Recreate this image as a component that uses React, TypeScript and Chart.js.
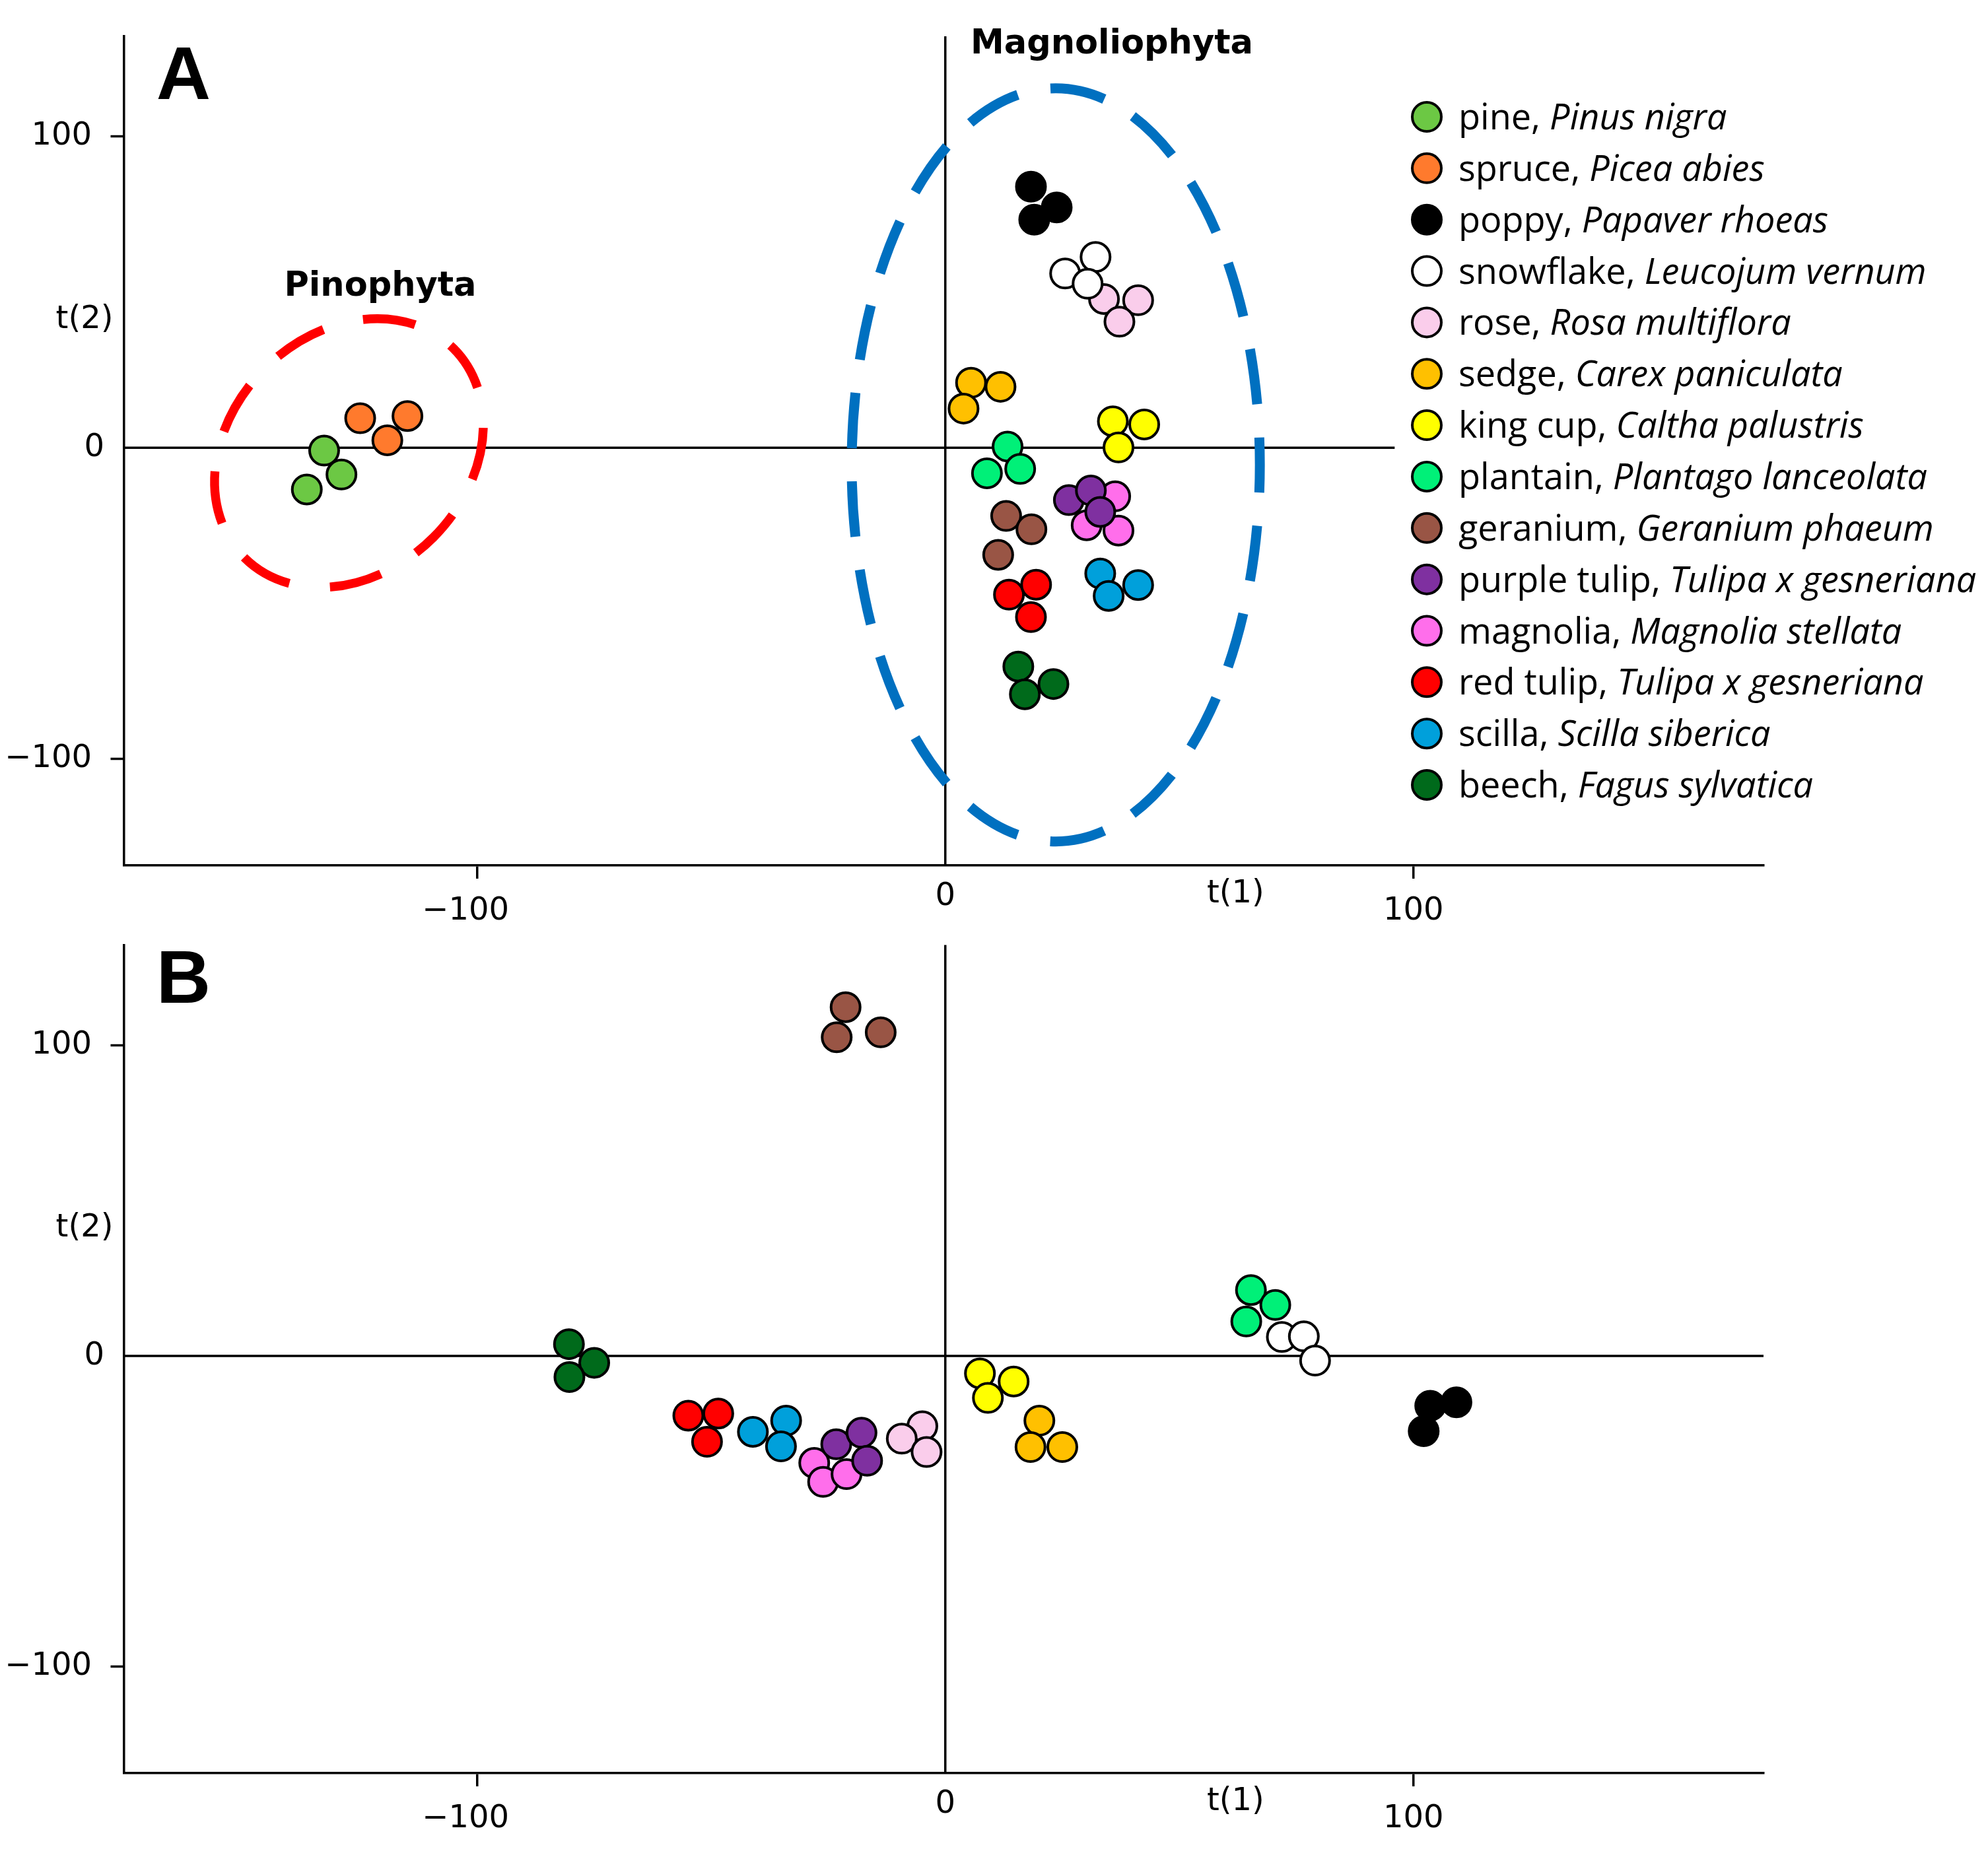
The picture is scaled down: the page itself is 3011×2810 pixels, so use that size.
import React, { useEffect, useRef } from 'react';
import { Chart, registerables } from 'chart.js';

Chart.register(...registerables);

// ---------- DATA ----------
const commonNames = ['pine', 'spruce', 'poppy', 'snowflake', 'rose', 'sedge', 'king cup', 'plantain', 'geranium', 'purple tulip', 'magnolia', 'red tulip', 'scilla', 'beech'];
const latinNames = ['Pinus nigra', 'Picea abies', 'Papaver rhoeas', 'Leucojum vernum', 'Rosa multiflora', 'Carex paniculata', 'Caltha palustris', 'Plantago lanceolata', 'Geranium phaeum', 'Tulipa x gesneriana', 'Magnolia stellata', 'Tulipa x gesneriana', 'Scilla siberica', 'Fagus sylvatica'];
const speciesColors = ['#6CC844', '#FF7A2D', '#000000', '#FFFFFF', '#FACDEB', '#FFC000', '#FFFF00', '#00F078', '#995545', '#7F30A0', '#FF6EEB', '#FF0000', '#00A0DB', '#006A1B'];

// Panel A scores: [t(1), t(2)]
const pineA = [[-132.7, -0.9], [-129.0, -8.6], [-136.4, -13.4]];
const spruceA = [[-125.0, 9.5], [-114.9, 10.2], [-119.2, 2.4]];
const poppyA = [[18.3, 83.9], [23.8, 77.2], [19.0, 73.3]];
const snowflakeA = [[32.1, 61.3], [25.6, 56.0], [30.4, 52.7]];
const roseA = [[33.9, 47.8], [41.2, 47.4], [37.2, 40.5]];
const sedgeA = [[5.5, 20.9], [11.8, 19.6], [3.9, 12.6]];
const kingcupA = [[35.8, 8.5], [42.5, 7.5], [37.0, 0.1]];
const plantainA = [[13.3, 0.4], [8.9, -8.2], [16.0, -6.8]];
const geraniumA = [[13.0, -21.9], [18.4, -26.2], [11.3, -34.4]];
const purpleTulipA = [[26.4, -16.8], [31.1, -13.7], [33.1, -20.6]];
const magnoliaA = [[36.3, -15.6], [30.2, -24.9], [37.0, -26.6]];
const redTulipA = [[13.6, -47.2], [19.4, -44.0], [18.3, -54.4]];
const scillaA = [[33.1, -40.4], [34.9, -47.6], [41.2, -44.1]];
const beechA = [[15.6, -70.3], [17.0, -79.2], [23.1, -75.9]];

// Panel B scores: [t(1), t(2)]
const pineB: number[][] = [];
const spruceB: number[][] = [];
const poppyB = [[103.6, -16.0], [109.2, -14.9], [102.2, -24.2]];
const snowflakeB = [[71.9, 6.1], [76.6, 6.3], [79.0, -1.5]];
const roseB = [[-4.9, -22.6], [-9.3, -26.6], [-4.0, -30.9]];
const sedgeB = [[20.1, -20.8], [18.2, -29.3], [25.0, -29.3]];
const kingcupB = [[7.4, -5.6], [14.6, -8.2], [9.1, -13.5]];
const plantainB = [[65.3, 21.2], [70.5, 16.4], [64.3, 11.1]];
const geraniumB = [[-21.3, 112.2], [-23.2, 102.5], [-13.8, 104.1]];
const purpleTulipB = [[-23.3, -28.4], [-17.9, -24.7], [-16.7, -33.7]];
const magnoliaB = [[-28.0, -34.4], [-26.1, -40.5], [-21.1, -38.0]];
const redTulipB = [[-54.9, -19.2], [-48.5, -18.5], [-50.9, -27.6]];
const scillaB = [[-41.1, -24.4], [-34.0, -20.8], [-35.1, -29.1]];
const beechB = [[-80.4, 3.8], [-75.0, -2.2], [-80.3, -6.8]];

const seriesA = [pineA, spruceA, poppyA, snowflakeA, roseA, sedgeA, kingcupA, plantainA, geraniumA, purpleTulipA, magnoliaA, redTulipA, scillaA, beechA];
const seriesB = [pineB, spruceB, poppyB, snowflakeB, roseB, sedgeB, kingcupB, plantainB, geraniumB, purpleTulipB, magnoliaB, redTulipB, scillaB, beechB];

const tickValues = [-100, 0, 100];
const xRange = [-175.5, 174.8];
const yRange = [-134.2, 132.2];

// ---------- STYLE ----------
const AXIS_W = 3.5;
const TICK_FONT = { family: 'DejaVu Sans', size: 48 };
const fmt = (v: number) => (v < 0 ? '\u2212' + Math.abs(v) : String(v));

type PanelCfg = {
  key: 'A' | 'B';
  top: number;
  height: number;
  padTop: number;
  xAxisH: number;
  series: number[][][];
  zeroLineEnd: number;
  letterBaseline: number;
  showLegend: boolean;
};

const panels: PanelCfg[] = [
  { key: 'A', top: 0, height: 1420, padTop: 55, xAxisH: 109, series: seriesA, zeroLineEnd: 96, letterBaseline: 150, showLegend: true },
  { key: 'B', top: 1420, height: 1390, padTop: 11.5, xAxisH: 124, series: seriesB, zeroLineEnd: xRange[1], letterBaseline: 99, showLegend: false },
];

function drawDashedEllipse(ctx: CanvasRenderingContext2D, cx: number, cy: number, a: number, b: number, rot: number, color: string, width: number, dash: number[], offset: number) {
  ctx.save();
  ctx.strokeStyle = color;
  ctx.lineWidth = width;
  ctx.setLineDash(dash);
  ctx.lineDashOffset = offset;
  ctx.lineCap = 'butt';
  ctx.beginPath();
  ctx.ellipse(cx, cy, a, b, rot, 0, Math.PI * 2);
  ctx.stroke();
  ctx.restore();
}

function overlayPlugin(p: PanelCfg) {
  return {
    id: 'overlay' + p.key,
    beforeDatasetsDraw(chart: any) {
      const { ctx, chartArea } = chart;
      const x = chart.scales.x;
      const y = chart.scales.y;
      ctx.save();
      ctx.strokeStyle = '#000';
      ctx.lineWidth = AXIS_W;
      const py = y.getPixelForValue(0);
      ctx.beginPath();
      ctx.moveTo(chartArea.left, py);
      ctx.lineTo(x.getPixelForValue(p.zeroLineEnd), py);
      ctx.stroke();
      ctx.restore();
    },
    afterDatasetsDraw(chart: any) {
      const { ctx, chartArea } = chart;
      const x = chart.scales.x;
      const y = chart.scales.y;
      const pxPerX = Math.abs(x.getPixelForValue(1) - x.getPixelForValue(0));
      const pxPerY = Math.abs(y.getPixelForValue(0) - y.getPixelForValue(1));

      // group ellipses (panel A)
      if (p.key === 'A') {
        drawDashedEllipse(ctx, x.getPixelForValue(-127.4), y.getPixelForValue(-1.7), 31.6 * pxPerX, 25.5 * pxPerX, -Math.PI / 4, '#FF0000', 13.5, [80, 62], 10);
        drawDashedEllipse(ctx, x.getPixelForValue(23.6), y.getPixelForValue(-5.5), 43.6 * pxPerX, 121 * pxPerY, 0, '#0070C0', 15, [84, 50.5], 42);
      }

      ctx.save();
      ctx.fillStyle = '#000';
      // "0" tick labels (no tick mark at zero)
      ctx.font = `${TICK_FONT.size}px "${TICK_FONT.family}"`;
      ctx.textAlign = 'right';
      ctx.textBaseline = 'middle';
      ctx.fillText('0', chartArea.left - 29.5, y.getPixelForValue(0));
      ctx.textAlign = 'center';
      ctx.fillText('0', x.getPixelForValue(0), chartArea.bottom + 48);

      // axis titles
      ctx.fillText('t(2)', 128, y.getPixelForValue(41));
      ctx.fillText('t(1)', x.getPixelForValue(62), chartArea.bottom + 44);

      // panel letter
      ctx.font = 'bold 114px "Liberation Sans"';
      ctx.textBaseline = 'alphabetic';
      ctx.fillText(p.key, 278, p.letterBaseline);

      if (p.key === 'A') {
        ctx.font = 'bold 51px "DejaVu Sans"';
        ctx.fillText('Pinophyta', 576, 448);
        ctx.fillText('Magnoliophyta', 1684, 81);
      }

      // legend
      if (p.showLegend) {
        const mx = 2161;
        const y0 = 177;
        const step = 77.85;
        chart.data.datasets.forEach((ds: any, i: number) => {
          const cy = y0 + i * step;
          ctx.beginPath();
          ctx.arc(mx, cy, 22, 0, Math.PI * 2);
          ctx.fillStyle = ds.backgroundColor;
          ctx.fill();
          ctx.lineWidth = 4;
          ctx.strokeStyle = '#000';
          ctx.stroke();
          ctx.fillStyle = '#000';
          ctx.textAlign = 'left';
          ctx.textBaseline = 'alphabetic';
          const base = cy + 19;
          const part1 = commonNames[i] + ', ';
          ctx.font = '54px "Open Sans"';
          ctx.fillText(part1, 2209, base);
          const w1 = ctx.measureText(part1).width;
          ctx.font = 'italic 54px "Open Sans"';
          ctx.fillText(latinNames[i], 2209 + w1, base);
        });
      }
      ctx.restore();
    },
  };
}

const noScalePadding = (s: any) => {
  s.paddingTop = 0;
  s.paddingBottom = 0;
  s.paddingLeft = 0;
  s.paddingRight = 0;
};

function buildChart(canvas: HTMLCanvasElement, p: PanelCfg) {
  const datasets = p.series.map((pts, i) => ({
    label: commonNames[i],
    data: pts.map(([a, b]) => ({ x: a, y: b })),
    backgroundColor: speciesColors[i],
    borderColor: '#000',
    borderWidth: 4,
    pointRadius: 22,
    pointHoverRadius: 22,
  }));
  const tickCol = (c: any) => (c.tick && c.tick.value === 0 ? 'rgba(0,0,0,0)' : '#000');
  return new Chart(canvas, {
    type: 'scatter',
    data: { datasets },
    options: {
      responsive: false,
      animation: false,
      devicePixelRatio: 1,
      events: [],
      layout: { autoPadding: false, padding: { left: 0, top: p.padTop, right: 3011 - 2671, bottom: 0 } },
      plugins: { legend: { display: false }, tooltip: { enabled: false } },
      scales: {
        x: {
          type: 'linear',
          min: xRange[0],
          max: xRange[1],
          afterBuildTicks: (s: any) => { s.ticks = tickValues.map((v) => ({ value: v })); },
          afterFit: (s: any) => { s.height = p.xAxisH; noScalePadding(s); },
          border: { display: true, color: '#000', width: AXIS_W },
          grid: {
            drawOnChartArea: true,
            color: (c: any) => (c.tick && c.tick.value === 0 ? '#000' : 'rgba(0,0,0,0)'),
            lineWidth: AXIS_W,
            drawTicks: true,
            tickLength: 20,
            tickColor: tickCol,
            tickWidth: AXIS_W,
          },
          ticks: {
            autoSkip: false,
            maxRotation: 0,
            padding: 21,
            color: '#000',
            font: TICK_FONT,
            callback: (v: any) => (v === 0 ? '' : v < 0 ? fmt(v) + '\u2007\u200a' : fmt(v)),
          },
        },
        y: {
          type: 'linear',
          min: yRange[0],
          max: yRange[1],
          afterBuildTicks: (s: any) => { s.ticks = tickValues.map((v) => ({ value: v })); },
          afterFit: (s: any) => { s.width = 187.5; noScalePadding(s); },
          border: { display: true, color: '#000', width: AXIS_W },
          grid: {
            drawOnChartArea: false,
            drawTicks: true,
            tickLength: 20,
            tickColor: tickCol,
            tickWidth: AXIS_W,
          },
          ticks: {
            autoSkip: false,
            padding: 28.5,
            color: '#000',
            font: TICK_FONT,
            callback: (v: any) => (v === 0 ? '' : fmt(v)),
          },
        },
      },
    },
    plugins: [overlayPlugin(p)],
  } as any);
}

export default function App() {
  const refA = useRef<HTMLCanvasElement>(null);
  const refB = useRef<HTMLCanvasElement>(null);

  useEffect(() => {
    const charts: Chart[] = [];
    const refs = [refA, refB];
    panels.forEach((p, i) => {
      const c = refs[i].current;
      if (c) charts.push(buildChart(c, p));
    });
    return () => charts.forEach((c) => c.destroy());
  }, []);

  return (
    <div style={{ position: 'absolute', left: 0, top: 0, width: 3011, height: 2810, background: '#fff' }}>
      {panels.map((p, i) => (
        <canvas
          key={p.key}
          ref={i === 0 ? refA : refB}
          width={3011}
          height={p.height}
          style={{ position: 'absolute', left: 0, top: p.top, width: 3011, height: p.height, display: 'block' }}
        />
      ))}
    </div>
  );
}
